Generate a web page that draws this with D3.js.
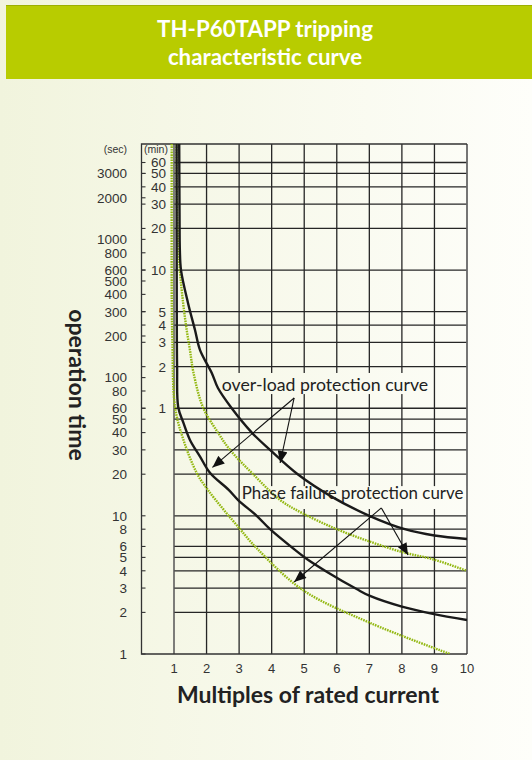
<!DOCTYPE html>
<html>
<head>
<meta charset="utf-8">
<script src="https://cdn.jsdelivr.net/npm/d3@7"></script>
<style>
  html, body { margin: 0; padding: 0; background: #fff; }
  svg { display: block; }
</style>
</head>
<body>
<svg id="chart" width="532" height="760"></svg>
<script>
// ---- data ----
var titleLines = ["TH-P60TAPP tripping", "characteristic curve"];
var xTicks = [1, 2, 3, 4, 5, 6, 7, 8, 9, 10];
var secTicks = [3000, 2000, 1000, 800, 600, 500, 400, 300, 200, 100, 80, 60, 50, 40, 30, 20, 10, 8, 6, 5, 4, 3, 2, 1];
var minTicks = [60, 50, 40, 30, 20, 10, 5, 4, 3, 2, 1];
var gridSec = [3600, 3000, 2400, 1800, 1200, 600, 300, 240, 180, 120, 60, 50, 40, 30, 20, 10, 8, 6, 5, 4, 3, 2];

// [multiple of rated current, seconds]
var overloadUpper = [[1.16, 4900], [1.17, 1500], [1.18, 830], [1.215, 600], [1.43, 347], [1.645, 221], [1.8, 158],
  [2.16, 108], [2.35, 84], [2.75, 61], [3.39, 40], [3.95, 30], [4.8, 20], [5.88, 13.6], [7.0, 10], [8.09, 8],
  [9.0, 7.2], [10, 6.8]];
var overloadLower = [[1.08, 4900], [1.085, 300], [1.095, 120], [1.13, 61], [1.29, 47], [1.49, 35.4], [1.8, 26.8],
  [2.11, 20.4], [2.68, 15.4], [2.97, 13], [3.54, 10], [3.95, 8], [4.65, 5.83], [5.08, 4.87], [5.69, 3.94],
  [6.61, 2.95], [7.02, 2.63], [8.0, 2.2], [8.95, 1.95], [10, 1.76]];
var phaseUpper = [[1.08, 4900], [1.1, 1400], [1.18, 600], [1.28, 347], [1.39, 221], [1.49, 158], [1.6, 108],
  [1.89, 61], [2.35, 40], [2.72, 30], [3.43, 20], [4.26, 13], [4.96, 10.4], [6.0, 8.0], [7.02, 6.5],
  [8.03, 5.45], [8.95, 4.85], [10, 4.0]];
var phaseLower = [[0.93, 4900], [0.932, 365], [0.95, 187], [1.03, 61.6], [1.29, 35.4], [1.7, 20.4],
  [2.04, 15.4], [3.03, 8.0], [3.54, 5.83], [4.96, 2.9], [7.02, 1.68], [9.48, 1.0]];

// annotation labels and their arrows, also in data units
var notes = [
  { text: "over-load protection curve", x: 2.47, t: 80, box: [2.38, 8.92, 108, 76],
    from: [4.69, 71.2], to: [[2.18, 22.4], [4.26, 24.1]] },
  { text: "Phase failure protection curve", x: 3.08, t: 13.2, box: [3.09, 9.97, 16.4, 11.2],
    from: [7.37, 11.4], to: [[4.69, 3.32], [8.19, 5.2]] }
];
var noteSize = [17.7, 16.9];

var svg = d3.select("#chart");
var W = 532, H = 760;

var defs = svg.append("defs");
var grad = defs.append("linearGradient")
  .attr("id", "bg").attr("gradientUnits", "userSpaceOnUse")
  .attr("x1", 0).attr("y1", 0).attr("x2", W).attr("y2", 0);
grad.append("stop").attr("offset", 0).attr("stop-color", "#f1f4dd");
grad.append("stop").attr("offset", 1).attr("stop-color", "#fefefa");

defs.append("marker")
  .attr("id", "head").attr("markerUnits", "userSpaceOnUse")
  .attr("viewBox", "0 0 12 10").attr("refX", 12).attr("refY", 5)
  .attr("markerWidth", 13).attr("markerHeight", 10).attr("orient", "auto")
  .append("path").attr("d", "M0,0 L12,5 L0,10 Z").attr("fill", "#111");

svg.append("rect").attr("width", W).attr("height", H).attr("fill", "url(#bg)");

// header band
svg.append("rect").attr("x", 6).attr("y", 5).attr("width", W - 6).attr("height", 74).attr("fill", "#b8cc00");
svg.append("line").attr("x1", 6).attr("x2", W).attr("y1", 5.5).attr("y2", 5.5)
  .attr("stroke", "#9caf00").attr("stroke-width", 1);
svg.append("text")
  .attr("x", 265).attr("y", 37)
  .attr("text-anchor", "middle")
  .attr("font-family", "Lato, sans-serif").attr("font-weight", 700).attr("font-size", 22.3)
  .attr("fill", "#fff")
  .selectAll("tspan").data(titleLines).enter().append("tspan")
  .attr("x", 265).attr("dy", function(d, i) { return i ? 28 : 0; })
  .text(function(d) { return d; });

// scales
var x = d3.scaleLinear().domain([1, 10]).range([174, 467]);
var y = d3.scaleLog().domain([1, 4900]).range([654, 144]);
var axisLeftX = 141.5;

// grid
var grid = svg.append("g").attr("stroke", "#262626").attr("stroke-width", 1.3);
grid.selectAll("line.h").data(gridSec).enter().append("line")
  .attr("x1", x(1)).attr("x2", x(10))
  .attr("y1", function(d) { return y(d); }).attr("y2", function(d) { return y(d); });
grid.selectAll("line.v").data(xTicks.slice(1, -1)).enter().append("line")
  .attr("y1", y(4900)).attr("y2", y(1))
  .attr("x1", function(d) { return x(d); }).attr("x2", function(d) { return x(d); });

// frame
svg.append("line").attr("x1", x(1)).attr("x2", x(1)).attr("y1", y(4900)).attr("y2", y(1))
  .attr("stroke", "#555").attr("stroke-width", 1.5);
svg.append("line").attr("x1", x(10)).attr("x2", x(10)).attr("y1", y(4900)).attr("y2", y(1))
  .attr("stroke", "#666").attr("stroke-width", 1.8);
svg.append("path")
  .attr("d", "M" + x(10) + "," + y(4900) + "H" + axisLeftX + "V" + y(1) + "H" + x(10))
  .attr("fill", "none").attr("stroke", "#333").attr("stroke-width", 1.3);

// label boxes hide the grid behind the notes
svg.selectAll("rect.note").data(notes).enter().append("rect")
  .attr("x", function(d) { return x(d.box[0]); })
  .attr("width", function(d) { return x(d.box[1]) - x(d.box[0]); })
  .attr("y", function(d) { return y(d.box[2]); })
  .attr("height", function(d) { return y(d.box[3]) - y(d.box[2]); })
  .attr("fill", "url(#bg)");

// left ticks (seconds and minutes)
var tickVals = secTicks.concat(minTicks.map(function(m) { return m * 60; }));
svg.append("g").attr("stroke", "#333").attr("stroke-width", 1.1)
  .selectAll("line").data(tickVals).enter().append("line")
  .attr("x1", axisLeftX).attr("x2", axisLeftX + 4)
  .attr("y1", function(d) { return y(d); }).attr("y2", function(d) { return y(d); });

var lbl = svg.append("g").attr("font-family", "'Liberation Sans', Arial, sans-serif").attr("fill", "#333");
lbl.selectAll("text.sec").data(secTicks).enter().append("text")
  .attr("x", 127).attr("y", function(d) { return y(d); }).attr("dy", "0.36em")
  .attr("text-anchor", "end").attr("font-size", 13.5)
  .text(function(d) { return d; });
lbl.selectAll("text.min").data(minTicks).enter().append("text")
  .attr("x", 166).attr("y", function(d) { return y(d * 60); }).attr("dy", "0.36em")
  .attr("text-anchor", "end").attr("font-size", 13.5)
  .text(function(d) { return d; });
lbl.selectAll("text.x").data(xTicks).enter().append("text")
  .attr("x", function(d) { return x(d); }).attr("y", 673)
  .attr("text-anchor", "middle").attr("font-size", 13)
  .text(function(d) { return d; });
lbl.append("text").attr("x", 127).attr("y", 153).attr("text-anchor", "end")
  .attr("font-size", 10.5).text("(sec)");
lbl.append("text").attr("x", 144).attr("y", 153)
  .attr("font-size", 10.5).text("(min)");

// curves
defs.append("clipPath").attr("id", "plot").append("rect")
  .attr("x", 168).attr("y", y(4900)).attr("width", x(10) - 168).attr("height", y(1) - y(4900));

var line = d3.line()
  .x(function(d) { return x(d[0]); })
  .y(function(d) { return y(d[1]); })
  .curve(d3.curveCatmullRom.alpha(0.5));

var curves = svg.append("g").attr("clip-path", "url(#plot)").attr("fill", "none");
[phaseUpper, phaseLower].forEach(function(c) {
  curves.append("path").attr("d", line(c))
    .attr("stroke", "#93b812").attr("stroke-width", 2.4).attr("stroke-dasharray", "1.6,1");
});
[overloadUpper, overloadLower].forEach(function(c) {
  curves.append("path").attr("d", line(c))
    .attr("stroke", "#1a1a1a").attr("stroke-width", 2.4);
});

// notes
svg.selectAll("text.note").data(notes).enter().append("text")
  .attr("x", function(d) { return x(d.x); }).attr("y", function(d) { return y(d.t); })
  .attr("font-family", "Lato, sans-serif").attr("fill", "#222")
  .attr("font-size", function(d, i) { return noteSize[i]; })
  .text(function(d) { return d.text; });

notes.forEach(function(n) {
  n.to.forEach(function(p) {
    svg.append("line")
      .attr("x1", x(n.from[0])).attr("y1", y(n.from[1]))
      .attr("x2", x(p[0])).attr("y2", y(p[1]))
      .attr("stroke", "#111").attr("stroke-width", 1.1)
      .attr("marker-end", "url(#head)");
  });
});

// axis titles
svg.append("text")
  .attr("x", 308).attr("y", 703).attr("text-anchor", "middle")
  .attr("font-family", "Lato, sans-serif").attr("font-weight", 700).attr("font-size", 23)
  .attr("fill", "#222").text("Multiples of rated current");
svg.append("text")
  .attr("transform", "translate(69,385) rotate(90)")
  .attr("text-anchor", "middle")
  .attr("font-family", "Lato, sans-serif").attr("font-weight", 700).attr("font-size", 23)
  .attr("fill", "#222").text("operation time");
</script>
</body>
</html>
